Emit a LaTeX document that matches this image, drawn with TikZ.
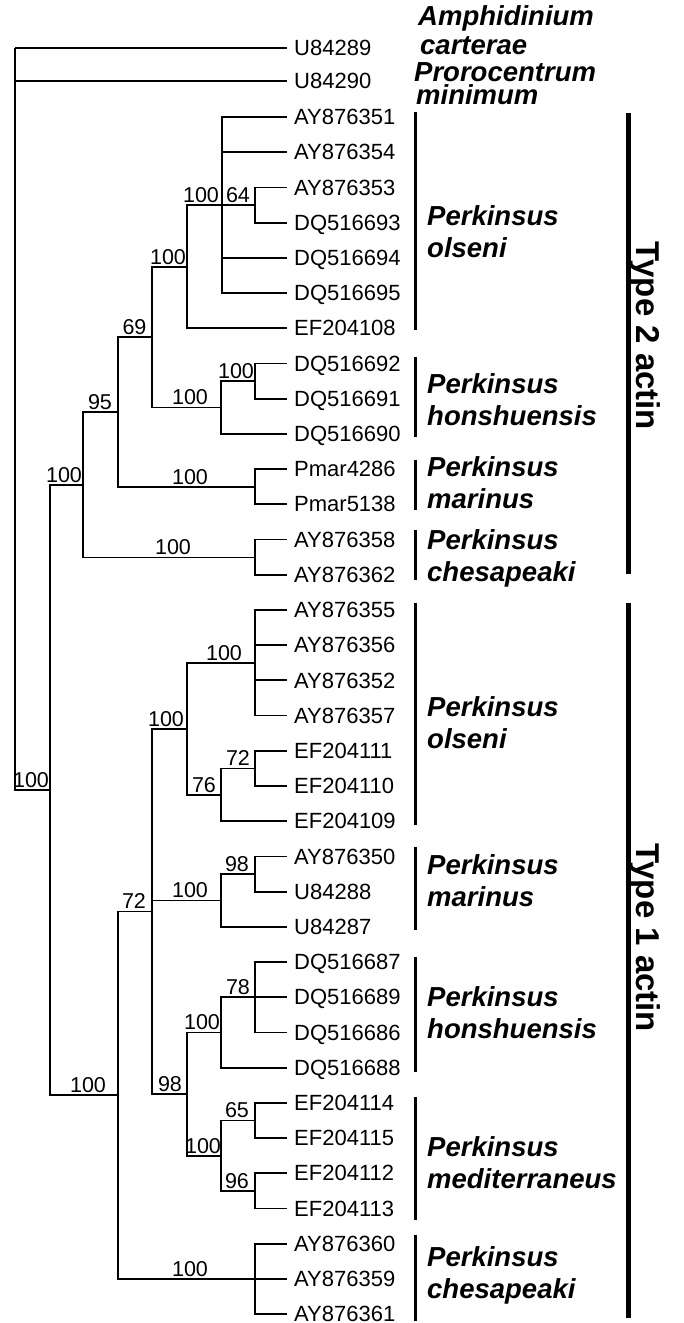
\documentclass[tikz,border=0pt]{standalone}
\usepackage{fontspec}
\setmainfont{Liberation Sans}
\begin{document}
\begin{tikzpicture}[x=1pt,y=-1pt,
  br/.style={line width=1.8pt},
  leaf/.style={anchor=west, inner xsep=7pt, inner ysep=0pt, text depth=0pt, font=\fontsize{22}{24}\selectfont},
  boot/.style={anchor=base, inner sep=0pt, font=\fontsize{21.5}{24}\selectfont},
  sp/.style={anchor=base west, inner sep=0pt, font=\fontsize{27.5}{30}\selectfont\bfseries\itshape},
  sbar/.style={line width=3pt},
  tbar/.style={line width=5pt},
  tlab/.style={anchor=base, inner sep=0pt, rotate=-90, font=\fontsize{33}{36}\selectfont\bfseries}
]
\useasboundingbox (0,0) rectangle (683,1323);

% ---------- leaves ----------
\node[leaf] (t1) at (287,48) {U84289};
\node[leaf] (t2) at (287,81) {U84290};
\foreach \i/\t in {0/AY876351,1/AY876354,2/AY876353,3/DQ516693,4/DQ516694,5/DQ516695,6/EF204108,
  7/DQ516692,8/DQ516691,9/DQ516690,10/Pmar4286,11/Pmar5138,12/AY876358,13/AY876362,
  14/AY876355,15/AY876356,16/AY876352,17/AY876357,18/EF204111,19/EF204110,20/EF204109,
  21/AY876350,22/U84288,23/U84287,24/DQ516687,25/DQ516689,26/DQ516686,27/DQ516688,
  28/EF204114,29/EF204115,30/EF204112,31/EF204113,32/AY876360,33/AY876359,34/AY876361}
  {\node[leaf] (l\i) at (287,{117+35.21*\i}) {\t};}

% ---------- internal nodes ----------
\coordinate (root)   at (15,48);
\coordinate (nP)     at (50,790.0);
\coordinate (nT2)    at (83,484.8);
\coordinate (n95)    at (118,412.1);
\coordinate (n69)    at (152,337.3);
\coordinate (n100b)  at (187,266.8);
\coordinate (n100a)  at (222,205.0);
\coordinate (n64)    at (255,205.0);
\coordinate (n100d)  at (221,407.4);
\coordinate (n100c)  at (255,381.3);
\coordinate (nPmar)  at (255,486.9);
\coordinate (nChesB) at (255,557.4);
\coordinate (nT1)    at (118,1095.2);
\coordinate (nM)     at (152,911.5);
\coordinate (nD)     at (187,728.9);
\coordinate (nA)     at (255,662.8);
\coordinate (nC)     at (221,794.8);
\coordinate (nB)     at (255,768.4);
\coordinate (nF)     at (221,900.4);
\coordinate (nE)     at (255,874.0);
\coordinate (nL)     at (187,1094.1);
\coordinate (nH)     at (221,1032.5);
\coordinate (nG)     at (255,997.3);
\coordinate (nK)     at (221,1155.8);
\coordinate (nI)     at (255,1120.4);
\coordinate (nJ)     at (255,1190.9);
\coordinate (nChesA) at (255,1279.0);

% ---------- branches ----------
\draw[br] (root) |- (t1.west);
\draw[br] (root) |- (t2.west);
\draw[br] (root) |- (nP);
\draw[br] (nP) |- (nT2);
\draw[br] (nP) |- (nT1);
\draw[br] (nT2) |- (n95);
\draw[br] (nT2) |- (nChesB);
\draw[br] (n95) |- (n69);
\draw[br] (n95) |- (nPmar);
\draw[br] (n69) |- (n100b);
\draw[br] (n69) |- (n100d);
\draw[br] (n100b) |- (n100a);
\draw[br] (n100b) |- (l6.west);
\draw[br] (n100a) |- (l0.west);
\draw[br] (n100a) |- (l1.west);
\draw[br] (n100a) |- (n64);
\draw[br] (n100a) |- (l4.west);
\draw[br] (n100a) |- (l5.west);
\draw[br] (n64) |- (l2.west);
\draw[br] (n64) |- (l3.west);
\draw[br] (n100d) |- (n100c);
\draw[br] (n100d) |- (l9.west);
\draw[br] (n100c) |- (l7.west);
\draw[br] (n100c) |- (l8.west);
\draw[br] (nPmar) |- (l10.west);
\draw[br] (nPmar) |- (l11.west);
\draw[br] (nChesB) |- (l12.west);
\draw[br] (nChesB) |- (l13.west);
\draw[br] (nT1) |- (nM);
\draw[br] (nT1) |- (nChesA);
\draw[br] (nM) |- (nD);
\draw[br] (nM) |- (nF);
\draw[br] (nM) |- (nL);
\draw[br] (nD) |- (nA);
\draw[br] (nD) |- (nC);
\foreach \i in {14,15,16,17} {\draw[br] (nA) |- (l\i.west);}
\draw[br] (nC) |- (nB);
\draw[br] (nC) |- (l20.west);
\draw[br] (nB) |- (l18.west);
\draw[br] (nB) |- (l19.west);
\draw[br] (nF) |- (nE);
\draw[br] (nF) |- (l23.west);
\draw[br] (nE) |- (l21.west);
\draw[br] (nE) |- (l22.west);
\draw[br] (nL) |- (nH);
\draw[br] (nL) |- (nK);
\draw[br] (nH) |- (nG);
\draw[br] (nH) |- (l27.west);
\foreach \i in {24,25,26} {\draw[br] (nG) |- (l\i.west);}
\draw[br] (nK) |- (nI);
\draw[br] (nK) |- (nJ);
\draw[br] (nI) |- (l28.west);
\draw[br] (nI) |- (l29.west);
\draw[br] (nJ) |- (l30.west);
\draw[br] (nJ) |- (l31.west);
\foreach \i in {32,33,34} {\draw[br] (nChesA) |- (l\i.west);}

% ---------- bootstrap values ----------
\node[boot] (b1)  at (31,787.3)  {100};
\node[boot] (b2)  at (64,482.1)  {100};
\node[boot] (b3)  at (100,409.4) {95};
\node[boot] (b4)  at (134.5,334.6) {69};
\node[boot] (b5)  at (168,264.1) {100};
\node[boot] (b6)  at (201,202.3) {100};
\node[boot] (b7)  at (238,202.3) {64};
\node[boot] (b8)  at (190,404.7) {100};
\node[boot] (b9)  at (236,378.6) {100};
\node[boot] (b10) at (190,484.2) {100};
\node[boot] (b11) at (173,554.7) {100};
\node[boot] (b12) at (88,1092.5) {100};
\node[boot] (b13) at (134,908.8) {72};
\node[boot] (b14) at (166,726.2) {100};
\node[boot] (b15) at (224,660.1) {100};
\node[boot] (b16) at (204,792.1) {76};
\node[boot] (b17) at (238,765.7) {72};
\node[boot] (b18) at (190,897.7) {100};
\node[boot] (b19) at (237,871.3) {98};
\node[boot] (b20) at (170,1091.4) {98};
\node[boot] (b21) at (202,1029.8) {100};
\node[boot] (b22) at (238,994.6) {78};
\node[boot] (b23) at (203,1153.1) {100};
\node[boot] (b24) at (237,1117.7) {65};
\node[boot] (b25) at (237,1188.2) {96};
\node[boot] (b26) at (190,1276.3) {100};

% ---------- outgroup names ----------
\node[sp] (oa1) at (418,25)  {Amphidinium};
\node[sp] (oa2) at (420,54)  {carterae};
\node[sp] (ob1) at (414,81)  {Prorocentrum};
\node[sp] (ob2) at (416,104) {minimum};

% ---------- species bars and names ----------
\draw[sbar] (415,112) -- (415,330);
\node[sp] (s1a) at (427,225) {Perkinsus};
\node[sp] (s1b) at (427,257) {olseni};
\draw[sbar] (415,357) -- (415,437);
\node[sp] (s2a) at (427,393) {Perkinsus};
\node[sp] (s2b) at (427,425) {honshuensis};
\draw[sbar] (415,460) -- (415,510);
\node[sp] (s3a) at (427,476) {Perkinsus};
\node[sp] (s3b) at (427,508) {marinus};
\draw[sbar] (415,530) -- (415,580);
\node[sp] (s4a) at (427,549) {Perkinsus};
\node[sp] (s4b) at (427,581) {chesapeaki};

\draw[sbar] (415,603) -- (415,825);
\node[sp] (s5a) at (427,716) {Perkinsus};
\node[sp] (s5b) at (427,748) {olseni};
\draw[sbar] (415,847) -- (415,930);
\node[sp] (s6a) at (427,874) {Perkinsus};
\node[sp] (s6b) at (427,906) {marinus};
\draw[sbar] (415,957) -- (415,1072);
\node[sp] (s7a) at (427,1006) {Perkinsus};
\node[sp] (s7b) at (427,1038) {honshuensis};
\draw[sbar] (415,1097) -- (415,1220);
\node[sp] (s8a) at (427,1156) {Perkinsus};
\node[sp] (s8b) at (427,1188) {mediterraneus};
\draw[sbar] (415,1235) -- (415,1321);
\node[sp] (s9a) at (427,1266) {Perkinsus};
\node[sp] (s9b) at (427,1298) {chesapeaki};

% ---------- type bars ----------
\draw[tbar] (628,113) -- (628,574);
\node[tlab] (ty2) at (636,336) {Type 2 actin};
\draw[tbar] (628,603) -- (628,1318);
\node[tlab] (ty1) at (636,938) {Type 1 actin};
\end{tikzpicture}
\end{document}
